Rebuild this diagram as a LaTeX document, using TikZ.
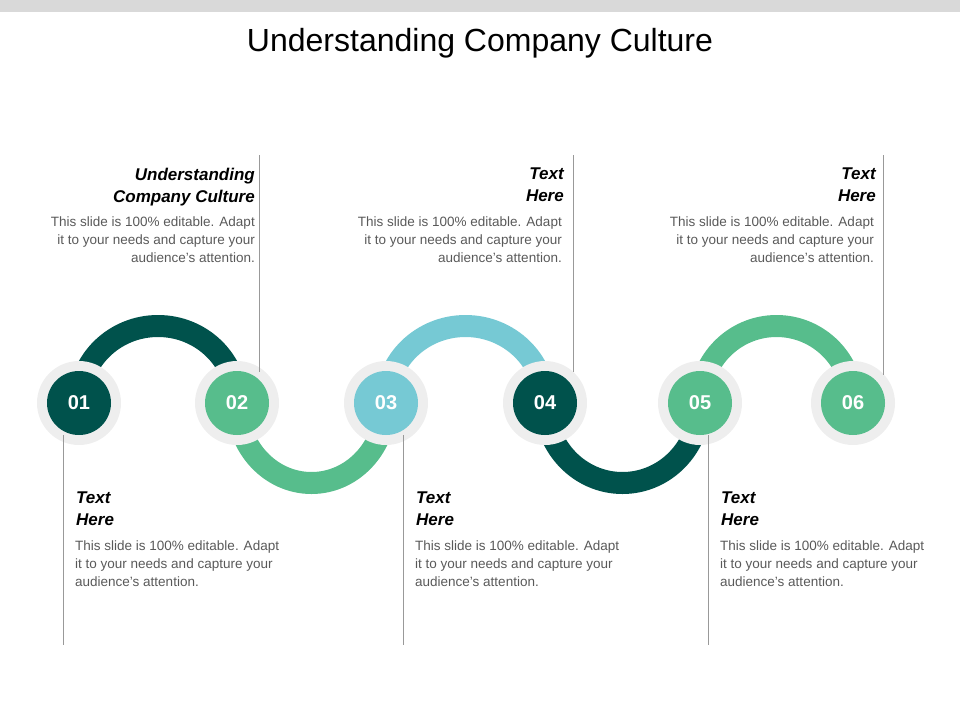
\documentclass[tikz,border=0pt]{standalone}
\usepackage{fontspec}
\setmainfont{Liberation Sans}
\definecolor{dk}{RGB}{0,82,76}
\definecolor{gr}{RGB}{87,189,140}
\definecolor{lb}{RGB}{118,201,212}
\definecolor{ring}{RGB}{238,238,238}
\definecolor{body}{RGB}{89,89,89}
\tikzset{
 arcline/.style={line width=22pt},
 ringc/.style={circle,fill=ring,minimum size=84pt,inner sep=0pt},
 numc/.style={circle,minimum size=64pt,inner sep=0pt,text=white,font=\fontsize{20}{24}\selectfont\bfseries},
 vline/.style={draw=black!40,line width=0.8pt},
 headtxt/.style={font=\fontsize{17}{22}\selectfont\bfseries\itshape},
 bodytxt/.style={text=body,font=\fontsize{13.5}{18}\selectfont,inner sep=0pt},
}
\newcommand{\bodyt}{This slide is 100\% editable. Adapt\\it to your needs and capture your\\audience's attention.}
\begin{document}
\begin{tikzpicture}[x=1pt,y=-1pt]
\useasboundingbox (0,0) rectangle (960,720);
\fill[black!15] (0,0) rectangle (960,12);
\node (title) at (480,43) {\fontsize{32}{38}\selectfont Understanding Company Culture};
% coordinates for circle centers
\foreach \n/\x in {1/79,2/237,3/386,4/545,5/700,6/853}{\coordinate (p\n) at (\x,403);}
% arcs
\draw[arcline,dk] (p1) ++(0,0) arc[start angle=180,end angle=0,x radius=79,y radius=-77];
\draw[arcline,gr] (p2) arc[start angle=180,end angle=360,x radius=74.5,y radius=-80];
\draw[arcline,lb] (p3) arc[start angle=180,end angle=0,x radius=79.5,y radius=-77];
\draw[arcline,dk] (p4) arc[start angle=180,end angle=360,x radius=77.5,y radius=-80];
\draw[arcline,gr] (p5) arc[start angle=180,end angle=0,x radius=76.5,y radius=-77];
% circles
\foreach \n/\c in {1/dk,2/gr,3/lb,4/dk,5/gr,6/gr}{
 \node[ringc] (r\n) at (p\n) {};
 \node[numc,fill=\c] (c\n) at (p\n) {0\n};
}
% vertical lines
\coordinate (t1a) at (259,155); \coordinate (t1b) at (259,372);
\coordinate (t2a) at (573,155); \coordinate (t2b) at (573,372);
\coordinate (t3a) at (883,155); \coordinate (t3b) at (883,375);
\coordinate (b1a) at (63,435); \coordinate (b1b) at (63,645);
\coordinate (b2a) at (403,435); \coordinate (b2b) at (403,645);
\coordinate (b3a) at (708,435); \coordinate (b3b) at (708,645);
\foreach \a in {t1,t2,t3,b1,b2,b3}{\draw[vline] (\a a) -- (\a b);}
% top texts
\node[headtxt,anchor=north east,align=right,inner sep=0pt] (h1) at (255,168) {Understanding\\Company Culture};
\node[bodytxt,anchor=north east,align=right] (d1) at (255,217) {\bodyt};
\node[headtxt,anchor=north east,align=right,inner sep=0pt] (h2) at (564,168) {Text\\Here};
\node[bodytxt,anchor=north east,align=right] (d2) at (562,217) {\bodyt};
\node[headtxt,anchor=north east,align=right,inner sep=0pt] (h3) at (876,168) {Text\\Here};
\node[bodytxt,anchor=north east,align=right] (d3) at (874,217) {\bodyt};
% bottom texts
\node[headtxt,anchor=north west,align=left,inner sep=0pt] (h4) at (76,492) {Text\\Here};
\node[bodytxt,anchor=north west,align=left] (d4) at (75,541) {\bodyt};
\node[headtxt,anchor=north west,align=left,inner sep=0pt] (h5) at (416,492) {Text\\Here};
\node[bodytxt,anchor=north west,align=left] (d5) at (415,541) {\bodyt};
\node[headtxt,anchor=north west,align=left,inner sep=0pt] (h6) at (721,492) {Text\\Here};
\node[bodytxt,anchor=north west,align=left] (d6) at (720,541) {\bodyt};
\end{tikzpicture}
\end{document}
